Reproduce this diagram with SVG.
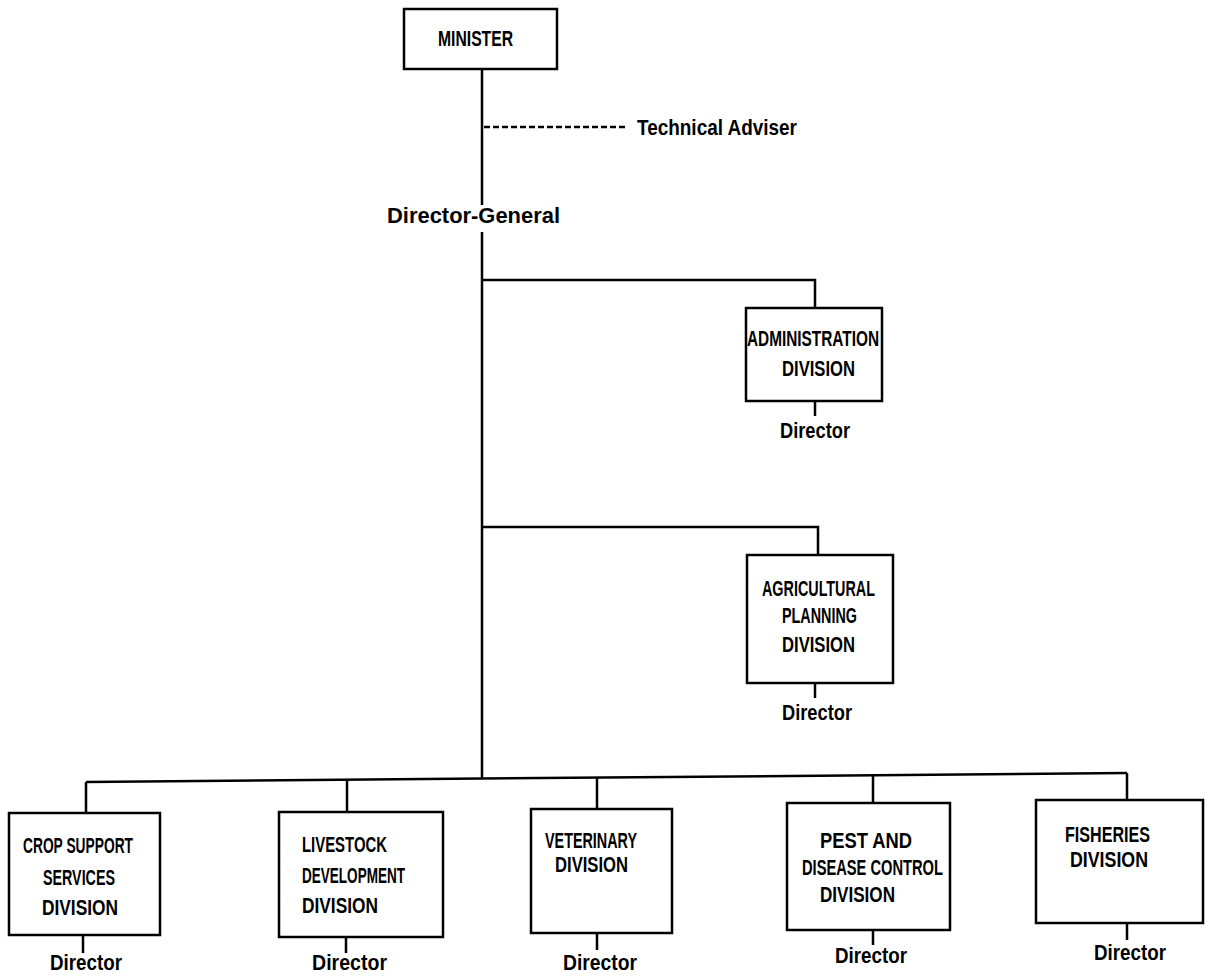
<svg xmlns="http://www.w3.org/2000/svg" width="1205" height="978" viewBox="0 0 1205 978">
<style>
.bg{fill:#fff}
.box{fill:#fff;stroke:#000;stroke-width:2.5}
.ln{fill:none;stroke:#000;stroke-width:2.5}
.dash{fill:none;stroke:#000;stroke-width:2.5;stroke-dasharray:6 3}
text{font-family:"Liberation Sans",Arial,sans-serif;font-weight:bold;font-size:22px;fill:#000}
</style>
<rect class="bg" x="0" y="0" width="1205" height="978"/>
<g id="connectors">
<path class="ln" d="M482,69 V205 M482,232 V778"/>
<path class="dash" d="M484,127 H625"/>
<path class="ln" d="M482,280 H815 V308"/>
<path class="ln" d="M815,401 V416"/>
<path class="ln" d="M482,527 H818 V555"/>
<path class="ln" d="M815,683 V698"/>
<path class="ln" d="M86,782 L1127,773"/>
<path class="ln" d="M86,782 V813 M347,780 V812 M597,778 V809 M873,775 V803 M1127,773 V800"/>
<path class="ln" d="M83,935 V953 M346,937 V953 M597,933 V950 M873,930 V945 M1127,923 V940"/>
</g>
<g id="minister">
<rect class="box" x="404" y="9" width="153" height="60"/>
<text x="438" y="46" textLength="75" lengthAdjust="spacingAndGlyphs">MINISTER</text>
</g>
<g id="technical-adviser">
<text x="637" y="135" textLength="160" lengthAdjust="spacingAndGlyphs">Technical Adviser</text>
</g>
<g id="director-general">
<text x="387" y="223" textLength="173" lengthAdjust="spacingAndGlyphs">Director-General</text>
</g>
<g id="administration">
<rect class="box" x="746" y="308" width="136" height="93"/>
<text x="747" y="346" textLength="132" lengthAdjust="spacingAndGlyphs">ADMINISTRATION</text>
<text x="782" y="376" textLength="73" lengthAdjust="spacingAndGlyphs">DIVISION</text>
<text x="780" y="438" textLength="70" lengthAdjust="spacingAndGlyphs">Director</text>
</g>
<g id="agricultural-planning">
<rect class="box" x="747" y="555" width="146" height="128"/>
<text x="762" y="596" textLength="113" lengthAdjust="spacingAndGlyphs">AGRICULTURAL</text>
<text x="782" y="623" textLength="75" lengthAdjust="spacingAndGlyphs">PLANNING</text>
<text x="782" y="652" textLength="73" lengthAdjust="spacingAndGlyphs">DIVISION</text>
<text x="782" y="720" textLength="70" lengthAdjust="spacingAndGlyphs">Director</text>
</g>
<g id="crop-support">
<rect class="box" x="9" y="813" width="151" height="122"/>
<text x="23" y="853" textLength="110" lengthAdjust="spacingAndGlyphs">CROP SUPPORT</text>
<text x="43" y="885" textLength="72" lengthAdjust="spacingAndGlyphs">SERVICES</text>
<text x="42" y="915" textLength="76" lengthAdjust="spacingAndGlyphs">DIVISION</text>
<text x="50" y="970" textLength="72" lengthAdjust="spacingAndGlyphs">Director</text>
</g>
<g id="livestock">
<rect class="box" x="279" y="812" width="164" height="125"/>
<text x="302" y="852" textLength="85" lengthAdjust="spacingAndGlyphs">LIVESTOCK</text>
<text x="302" y="883" textLength="103" lengthAdjust="spacingAndGlyphs">DEVELOPMENT</text>
<text x="302" y="913" textLength="76" lengthAdjust="spacingAndGlyphs">DIVISION</text>
<text x="312" y="970" textLength="75" lengthAdjust="spacingAndGlyphs">Director</text>
</g>
<g id="veterinary">
<rect class="box" x="531" y="809" width="141" height="124"/>
<text x="545" y="848" textLength="92" lengthAdjust="spacingAndGlyphs">VETERINARY</text>
<text x="555" y="872" textLength="73" lengthAdjust="spacingAndGlyphs">DIVISION</text>
<text x="563" y="970" textLength="74" lengthAdjust="spacingAndGlyphs">Director</text>
</g>
<g id="pest-disease">
<rect class="box" x="787" y="803" width="163" height="127"/>
<text x="820" y="848" textLength="92" lengthAdjust="spacingAndGlyphs">PEST AND</text>
<text x="802" y="875" textLength="141" lengthAdjust="spacingAndGlyphs">DISEASE CONTROL</text>
<text x="820" y="902" textLength="75" lengthAdjust="spacingAndGlyphs">DIVISION</text>
<text x="835" y="963" textLength="72" lengthAdjust="spacingAndGlyphs">Director</text>
</g>
<g id="fisheries">
<rect class="box" x="1036" y="800" width="167" height="123"/>
<text x="1065" y="842" textLength="85" lengthAdjust="spacingAndGlyphs">FISHERIES</text>
<text x="1070" y="867" textLength="78" lengthAdjust="spacingAndGlyphs">DIVISION</text>
<text x="1094" y="960" textLength="72" lengthAdjust="spacingAndGlyphs">Director</text>
</g>
</svg>
